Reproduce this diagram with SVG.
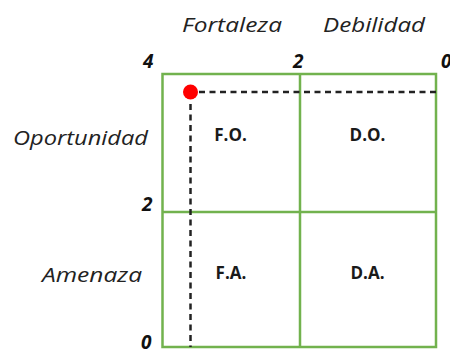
<svg xmlns="http://www.w3.org/2000/svg" width="450" height="354" viewBox="0 0 450 354">
<style>
.ax{font-family:"Open Sans","Liberation Sans",sans-serif;font-style:italic;font-size:20px;fill:#222}
.num{font-family:"Open Sans","Liberation Sans",sans-serif;font-style:italic;font-weight:bold;font-size:19px;fill:#111}
.q{font-family:"Open Sans","Liberation Sans",sans-serif;font-weight:bold;font-size:17px;fill:#1a1a1a;text-anchor:middle}
.g{fill:none;stroke:#72b24e;stroke-width:2.5}
.d{fill:none;stroke:#222;stroke-width:2.5;stroke-dasharray:6 4.5}
</style>
<rect width="450" height="354" fill="#fff"/>
<g id="axis-labels">
<text class="ax" x="182" y="32" textLength="100" lengthAdjust="spacingAndGlyphs">Fortaleza</text>
<text class="ax" x="323" y="32" textLength="102" lengthAdjust="spacingAndGlyphs">Debilidad</text>
<text class="ax" x="13" y="145" textLength="135" lengthAdjust="spacingAndGlyphs">Oportunidad</text>
<text class="ax" x="42" y="282" textLength="100" lengthAdjust="spacingAndGlyphs">Amenaza</text>
</g>
<g id="scale">
<text class="num" x="143" y="68">4</text>
<text class="num" x="293" y="68">2</text>
<text class="num" x="441" y="68">0</text>
<text class="num" x="142" y="211">2</text>
<text class="num" x="141" y="349">0</text>
</g>
<g id="grid">
<rect class="g" x="162.5" y="74" width="273.5" height="273"/>
<line class="g" x1="300" y1="74" x2="300" y2="347"/>
<line class="g" x1="162.5" y1="212" x2="436" y2="212"/>
</g>
<g id="quadrants">
<text class="q" x="230.5" y="141">F.O.</text>
<text class="q" x="367.5" y="141">D.O.</text>
<text class="q" x="231" y="279">F.A.</text>
<text class="q" x="367.5" y="279">D.A.</text>
</g>
<g id="connectors">
<line class="d" x1="199" y1="92" x2="436" y2="92"/>
<line class="d" x1="190.5" y1="104" x2="190.5" y2="347"/>
</g>
<g id="point">
<circle cx="190.5" cy="92" r="7.5" fill="#ff0000"/>
</g>
</svg>
